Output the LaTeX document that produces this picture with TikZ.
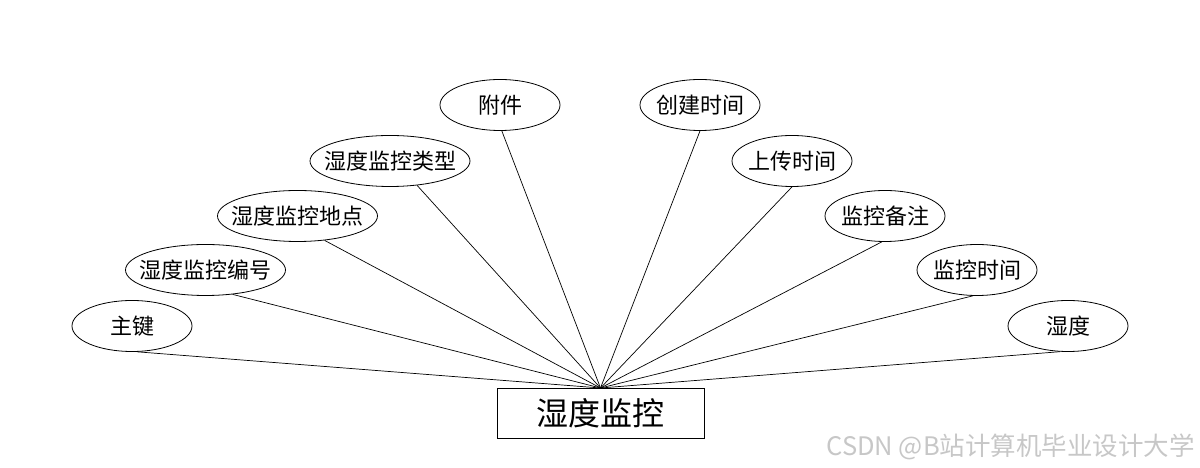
\documentclass[tikz,border=0pt]{standalone}
\usepackage{fontspec}
\setmainfont{Noto Sans CJK SC}
\usetikzlibrary{shapes.geometric}
\begin{document}
\begin{tikzpicture}[x=1pt,y=1pt,
  attr/.style={draw, ellipse, line width=0.8pt, minimum width=#1, minimum height=51pt, inner ysep=0pt, inner xsep=-10pt, font=\fontsize{22}{22}\selectfont},
  attr/.default=120pt,
  ent/.style={draw, rectangle, line width=0.8pt, minimum width=207pt, minimum height=50pt, inner sep=0pt, font=\fontsize{32}{32}\selectfont},
  link/.style={line width=0.7pt}]
\useasboundingbox (0,0) rectangle (1200,468);
\node[ent] (e) at (600.5,55) {湿度监控};
\coordinate (hub) at (600.5,80);
\node[attr] (a1) at (132,142) {主键};
\node[attr=160pt] (a2) at (205.5,198) {湿度监控编号};
\node[attr=160pt] (a3) at (297.5,252) {湿度监控地点};
\node[attr=160pt] (a4) at (390,307) {湿度监控类型};
\node[attr] (a5) at (500,363) {附件};
\node[attr] (a6) at (700,363) {创建时间};
\node[attr] (a7) at (792,307) {上传时间};
\node[attr] (a8) at (885,252) {监控备注};
\node[attr] (a9) at (977,198) {监控时间};
\node[attr] (a10) at (1068,142) {湿度};
\foreach \i/\ang in {1/281, 2/318, 3/318, 4/318, 5/274, 6/270, 7/270, 8/263, 9/261, 10/253}
  \draw[link] (a\i.\ang) -- (hub);
\node[anchor=east, text=black!22, font=\fontsize{25.5}{25.5}\selectfont, inner sep=0pt] (wm) at (1195,21) {CSDN @B站计算机毕业设计大学};
\end{tikzpicture}
\end{document}
